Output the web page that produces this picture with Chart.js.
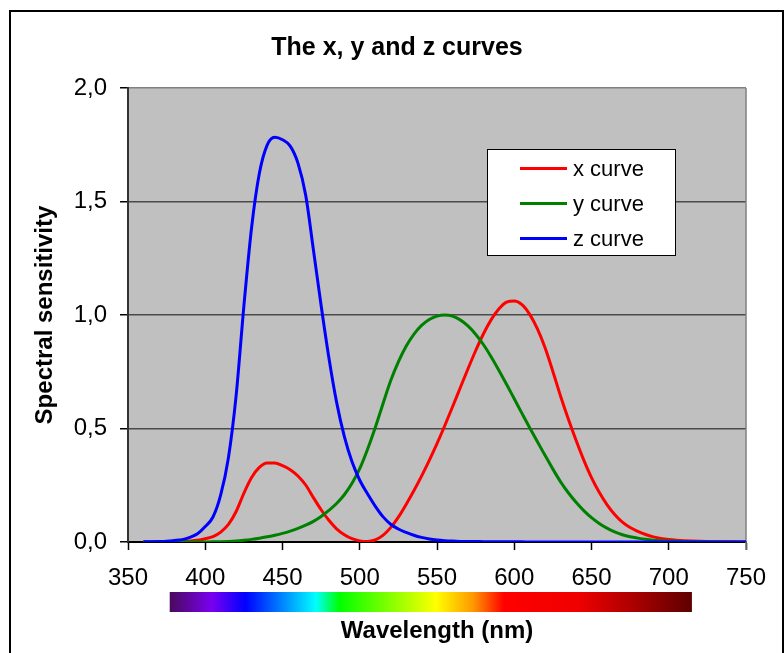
<!DOCTYPE html>
<html><head><meta charset="utf-8">
<script src="https://cdn.jsdelivr.net/npm/chart.js@4/dist/chart.umd.min.js"></script>
<style>
html,body{margin:0;padding:0;background:#fff;}
#wrap{position:relative;width:784px;height:653px;overflow:hidden;font-family:"Liberation Sans",Arial,sans-serif;}
#c{position:absolute;left:0;top:0;}
#frame{position:absolute;left:9px;top:10px;width:775px;height:700px;box-sizing:border-box;border:2px solid #000;pointer-events:none;}
#title{position:absolute;left:0;width:794px;top:31px;text-align:center;font-weight:bold;font-size:25px;line-height:30px;color:#000;}
#legend{position:absolute;left:487px;top:149px;width:189px;height:107px;box-sizing:border-box;border:1px solid #000;background:#fff;}
.row{position:absolute;left:0;height:30px;width:100%;}
.sw{position:absolute;left:32px;top:13px;width:47px;height:3px;}
.lt{position:absolute;left:85px;top:0;font-size:22px;line-height:30px;color:#000;white-space:nowrap;}
</style>
</head><body>
<div id="wrap">
<canvas id="c" width="784" height="653"></canvas>
<div id="frame"></div>
<div id="title">The x, y and z curves</div>
<div id="legend"></div>
</div>
<script>
// ---- data (CIE 1931 colour matching functions) ----
const wavelengths = [360,365,370,375,380,385,390,395,400,405,410,415,420,425,430,435,440,445,450,455,460,465,470,475,480,485,490,495,500,505,510,515,520,525,530,535,540,545,550,555,560,565,570,575,580,585,590,595,600,605,610,615,620,625,630,635,640,645,650,655,660,665,670,675,680,685,690,695,700,705,710,715,720,725,730,735,740,745,750];
const xCurve = [0.00013,0.00023,0.00041,0.00074,0.00137,0.00224,0.00424,0.00765,0.01431,0.02319,0.04351,0.07763,0.13438,0.21477,0.2839,0.3285,0.34828,0.34806,0.3362,0.3187,0.2908,0.2511,0.19536,0.1421,0.09564,0.05795,0.03201,0.0147,0.0049,0.0024,0.0093,0.0291,0.06327,0.1096,0.1655,0.22575,0.2904,0.3597,0.43345,0.51205,0.5945,0.6784,0.7621,0.8425,0.9163,0.9786,1.0263,1.0567,1.0622,1.0456,1.0026,0.9384,0.85445,0.7514,0.6424,0.5419,0.4479,0.3608,0.2835,0.2187,0.1649,0.1212,0.0874,0.0636,0.04677,0.0329,0.0227,0.01584,0.01136,0.00811,0.00579,0.00411,0.0029,0.00205,0.00144,0.001,0.00069,0.00048,0.00033];
const yCurve = [0.000004,0.000007,0.000012,0.000022,0.000039,0.000064,0.00012,0.000217,0.000396,0.00064,0.00121,0.00218,0.004,0.0073,0.0116,0.01684,0.023,0.0298,0.038,0.048,0.06,0.0739,0.09098,0.1126,0.13902,0.1693,0.20802,0.2586,0.323,0.4073,0.503,0.6082,0.71,0.7932,0.862,0.91485,0.954,0.9803,0.99495,1.0,0.995,0.9786,0.952,0.9154,0.87,0.8163,0.757,0.6949,0.631,0.5668,0.503,0.4412,0.381,0.321,0.265,0.217,0.175,0.1382,0.107,0.0816,0.061,0.04458,0.032,0.0232,0.017,0.01192,0.00821,0.00572,0.0041,0.00293,0.00209,0.00148,0.00105,0.00074,0.00052,0.00036,0.00025,0.00017,0.00012];
const zCurve = [0.00061,0.00109,0.00195,0.00349,0.00645,0.01055,0.02005,0.03621,0.06785,0.1102,0.2074,0.3713,0.6456,1.03905,1.3856,1.62296,1.74706,1.7826,1.77211,1.7441,1.6692,1.5281,1.28764,1.0419,0.81295,0.6162,0.46518,0.3533,0.272,0.2123,0.1582,0.1117,0.07825,0.05725,0.04216,0.02984,0.0203,0.0134,0.00875,0.00575,0.0039,0.00275,0.0021,0.0018,0.00165,0.0014,0.0011,0.001,0.0008,0.0006,0.00034,0.00024,0.00019,0.0001,0.00005,0.00003,0.00002,0.00001,0,0,0,0,0,0,0,0,0,0,0,0,0,0,0,0,0,0,0,0,0];
const seriesLabels = ['x curve','y curve','z curve'];
const seriesColors = ['#ff0000','#008000','#0000ff'];
const xTickValues = [350,400,450,500,550,600,650,700,750];
const yTickValues = [0,0.5,1.0,1.5,2.0];
// visible spectrum band under the axis (nm range it spans)
const spectrumRange = [377, 715];
const spectrumStops = [[0,'#4a0a5c'],[0.08,'#7a00f0'],[0.145,'#0000ff'],[0.28,'#00ffff'],[0.325,'#00ff00'],[0.43,'#90ff00'],[0.51,'#ffff00'],[0.58,'#ff9a00'],[0.64,'#ff0000'],[0.78,'#f00000'],[0.88,'#b00000'],[1,'#5e0000']];

const FAMILY = '"Liberation Sans", Arial, sans-serif';
Chart.defaults.font.family = FAMILY;

const pts = arr => wavelengths.map((w,i)=>({x:w,y:arr[i]}));
const curves = [xCurve,yCurve,zCurve];

// HTML legend
const leg = document.getElementById('legend');
seriesLabels.forEach((lab,i)=>{
  const r = document.createElement('div'); r.className='row'; r.style.top=(4+35*i)+'px';
  const s = document.createElement('div'); s.className='sw'; s.style.background=seriesColors[i];
  const t = document.createElement('div'); t.className='lt'; t.textContent=lab;
  r.appendChild(s); r.appendChild(t); leg.appendChild(r);
});

const bgPlugin = {
  id:'bg',
  beforeDraw(chart){
    const {ctx, chartArea:a} = chart;
    ctx.save();
    ctx.fillStyle='#c0c0c0';
    ctx.fillRect(a.left,a.top,a.right-a.left,a.bottom-a.top);
    ctx.restore();
  },
  beforeDatasetsDraw(chart){
    const {ctx, chartArea:a} = chart;
    ctx.save();
    ctx.strokeStyle='#808080'; ctx.lineWidth=1.5;
    ctx.beginPath(); ctx.moveTo(a.right, a.top); ctx.lineTo(a.right, a.bottom+8); ctx.stroke();
    ctx.restore();
  },
  afterDraw(chart){
    const {ctx, chartArea:a, scales} = chart;
    const x0 = scales.x.getPixelForValue(spectrumRange[0]);
    const x1 = scales.x.getPixelForValue(spectrumRange[1]);
    const g = ctx.createLinearGradient(x0,0,x1,0);
    spectrumStops.forEach(([p,c])=>g.addColorStop(p,c));
    ctx.save();
    ctx.fillStyle=g;
    ctx.fillRect(x0, a.bottom+50, x1-x0, 20);
    ctx.restore();
  }
};

new Chart(document.getElementById('c'), {
  type:'line',
  data:{datasets: curves.map((arr,i)=>({
    label: seriesLabels[i], data: pts(arr), borderColor: seriesColors[i], backgroundColor: seriesColors[i], order: 2-i
  }))},
  options:{
    responsive:false, animation:false, devicePixelRatio:1,
    layout:{padding:{top:88,right:38,left:0,bottom:0}},
    elements:{point:{radius:0}, line:{borderWidth:3, tension:0.4, fill:false, cubicInterpolationMode:'monotone'}},
    plugins:{legend:{display:false}, tooltip:{enabled:false}, title:{display:false}},
    scales:{
      x:{type:'linear', min:350, max:750,
        afterBuildTicks(s){ s.ticks = xTickValues.map(v=>({value:v})); },
        ticks:{color:'#000', font:{size:24}, padding:14, maxRotation:0, autoSkip:false},
        grid:{drawOnChartArea:false, drawTicks:true, tickLength:8, tickColor:'#000', tickWidth:1.5},
        border:{color:'#000', width:2},
        title:{display:true, text:'Wavelength (nm)', color:'#000', font:{size:24, weight:'bold'}, padding:{top:0,bottom:7}},
        afterFit(s){ s.height=111; }
      },
      y:{min:0, max:2,
        afterBuildTicks(s){ s.ticks = yTickValues.map(v=>({value:v})); },
        ticks:{color:'#000', font:{size:24}, padding:13, callback:v=>v.toFixed(1).replace('.',',')},
        grid:{color:c=> c.tick && c.tick.value===2 ? '#808080' : '#4a4a4a', lineWidth:1.5, tickLength:8, tickColor:'#000', tickWidth:1.5},
        border:{color:'#333', width:2},
        title:{display:true, text:'Spectral sensitivity', color:'#000', font:{size:24, weight:'bold'}, padding:{top:31,bottom:0}},
        afterFit(s){ s.width=128; }
      }
    }
  },
  plugins:[bgPlugin]
});
</script>
</body></html>
